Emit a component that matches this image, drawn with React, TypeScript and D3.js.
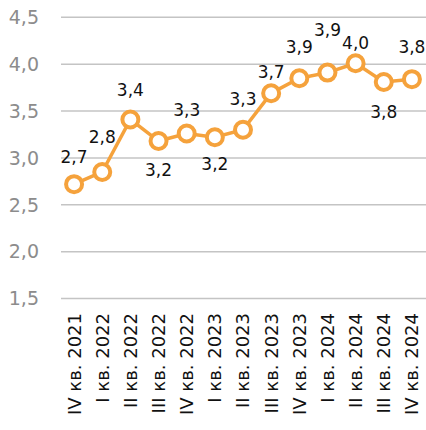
import React from 'react';
import * as d3 from 'd3';

const quarters = [
  'IV кв. 2021', 'I кв. 2022', 'II кв. 2022', 'III кв. 2022', 'IV кв. 2022',
  'I кв. 2023', 'II кв. 2023', 'III кв. 2023', 'IV кв. 2023',
  'I кв. 2024', 'II кв. 2024', 'III кв. 2024', 'IV кв. 2024',
];
const values = [2.72, 2.85, 3.41, 3.18, 3.26, 3.22, 3.3, 3.69, 3.85, 3.91, 4.01, 3.81, 3.84];
const valueLabels = ['2,7', '2,8', '3,4', '3,2', '3,3', '3,2', '3,3', '3,7', '3,9', '3,9', '4,0', '3,8', '3,8'];
const yTicks = [1.5, 2.0, 2.5, 3.0, 3.5, 4.0, 4.5];

// label placement relative to the point (manual, as in the source chart)
const labelDy = [-27, -35, -30, 29, -24, 27, -31, -21, -31, -43, -20, 30, -32];

const W = 426, H = 430;
const ORANGE = '#F5A23C';
const FONT = 'DejaVu Sans, sans-serif';

export default function App() {
  const x = d3.scaleBand<string>().domain(quarters).range([60, 426]);
  const y = d3.scaleLinear().domain([1.5, 4.5]).range([298.5, 17.3]);
  const cx = (i: number) => (x(quarters[i]) ?? 0) + x.bandwidth() / 2;

  const line = d3.line<number>()
    .x((_, i) => cx(i))
    .y(d => y(d));

  return (
    <svg width={W} height={H} style={{ position: 'absolute', left: 0, top: 0 }}>
      <rect width={W} height={H} fill="#fff" />
      {yTicks.map(t => (
        <g key={t}>
          <line x1={61} x2={426} y1={y(t)} y2={y(t)} stroke="#c4c4c4" strokeWidth={1.5} />
          <text x={39} y={y(t)} dy="0.36em" textAnchor="end" fontFamily={FONT}
            fontSize={19} fill="#8c8c8c">{d3.format('.1f')(t).replace('.', ',')}</text>
        </g>
      ))}
      {quarters.map((q, i) => (
        <text key={q} transform={`translate(${cx(i)},313) rotate(-90)`} textAnchor="end"
          dy="0.36em" fontFamily={FONT} fontSize={18} fill="#111">{q}</text>
      ))}
      <path d={line(values) ?? ''} fill="none" stroke={ORANGE} strokeWidth={3.5} />
      {values.map((v, i) => (
        <circle key={i} cx={cx(i)} cy={y(v)} r={8} fill="#fff" stroke={ORANGE} strokeWidth={4} />
      ))}
      {values.map((v, i) => (
        <text key={'l' + i} x={cx(i)} y={y(v) + labelDy[i]} dy="0.36em" textAnchor="middle"
          fontFamily={FONT} fontSize={17} fill="#111">{valueLabels[i]}</text>
      ))}
    </svg>
  );
}
